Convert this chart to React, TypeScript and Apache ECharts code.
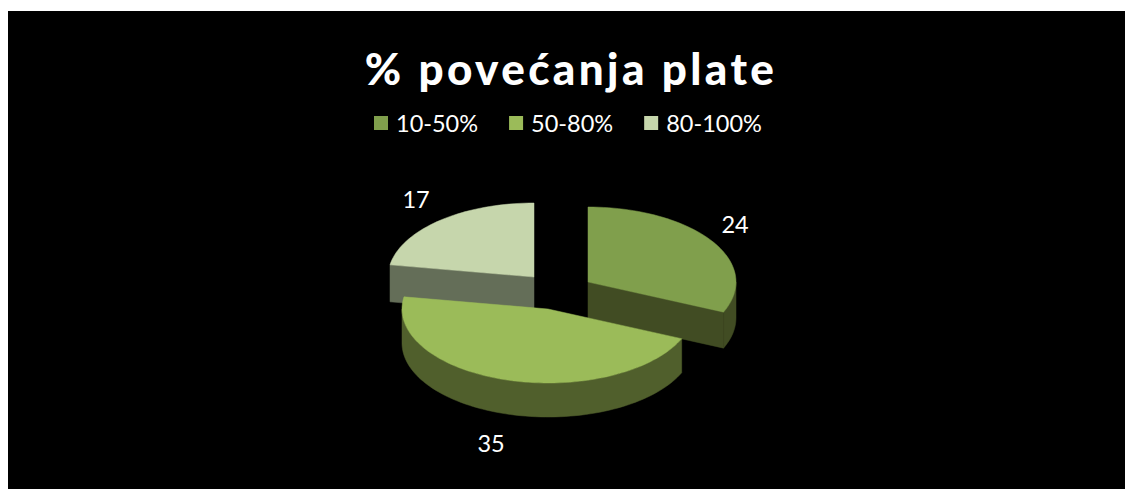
import React, { useEffect, useRef } from "react";
import * as echarts from "echarts";

const categories = ["10-50%", "50-80%", "80-100%"];
const values = [24, 35, 17];
const titleText = "% povećanja plate";

const FONT = "Lato, 'Open Sans', sans-serif";
const topColors = ["#809F4C", "#9BBB59", "#C6D6AC"];
const sideColors = ["#414C23", "#505F2C", "#646E58"];
// slice geometry in chart pixels: apex, radii, depth, label centre
const OX = 8, OY = 11;
const geometry = [
  { cx: 588 - OX, cy: 282 - OY, rx: 148, ry: 75, d: 36, lx: 735 - OX, ly: 224 - OY },
  { cx: 548 - OX, cy: 309 - OY, rx: 146, ry: 74, d: 34, lx: 491 - OX, ly: 443 - OY },
  { cx: 534 - OX, cy: 277 - OY, rx: 146, ry: 74, d: 37, lx: 416 - OX, ly: 199 - OY },
];
const total = values.reduce((a, b) => a + b, 0);
const drawOrder = [2, 0, 1];

function rimPoint(g: any, deg: number, dy = 0): number[] {
  const a = (deg * Math.PI) / 180;
  return [g.cx + g.rx * Math.sin(a), g.cy - g.ry * Math.cos(a) + dy];
}
function arcPoints(g: any, from: number, to: number, dy = 0): number[][] {
  const n = Math.max(2, Math.ceil(Math.abs(to - from) / 2));
  const pts: number[][] = [];
  for (let i = 0; i <= n; i++) pts.push(rimPoint(g, from + ((to - from) * i) / n, dy));
  return pts;
}

function makeRender(idx: number) {
  return (_params: any, api: any) => {
    const g = geometry[idx];
    const before = values.slice(0, idx).reduce((a, b) => a + b, 0);
    const start = (before / total) * 360;
    const end = start + ((api.value(0) as number) / total) * 360;
    const children: any[] = [];
    const side = sideColors[idx];
    const poly = (points: number[][], fill: string) => ({
      type: "polygon",
      shape: { points },
      style: { fill, stroke: fill, lineWidth: 0.5 },
    });
    // visible cut faces
    const cutFace = (deg: number) => {
      const p = rimPoint(g, deg);
      return poly(
        [[g.cx, g.cy], p, [p[0], p[1] + g.d], [g.cx, g.cy + g.d]],
        side
      );
    };
    if (idx === 0) children.push(cutFace(end));
    if (idx === 2) children.push(cutFace(start));
    // outer wall on the front half
    const wFrom = Math.max(start, 90);
    const wTo = Math.min(end, 270);
    if (wTo > wFrom) {
      const topArc = arcPoints(g, wFrom, wTo);
      const botArc = arcPoints(g, wFrom, wTo, g.d).reverse();
      children.push(poly([...topArc, ...botArc], side));
    }
    // top face
    children.push(poly([[g.cx, g.cy], ...arcPoints(g, start, end)], topColors[idx]));
    // value label
    children.push({
      type: "text",
      x: g.lx,
      y: g.ly,
      z2: 10,
      style: {
        text: String(api.value(0)),
        fill: "#FFFFFF",
        font: `23.5px ${FONT}`,
        textAlign: "center",
        textVerticalAlign: "middle",
      },
    });
    return { type: "group", children };
  };
}

export default function App() {
  const ref = useRef<HTMLDivElement>(null);
  useEffect(() => {
    const chart = echarts.init(ref.current!, undefined, { renderer: "svg" });
    chart.setOption({
      animation: false,
      backgroundColor: "#000000",
      title: {
        text: titleText,
        left: 566 - OX,
        top: 41 - OY,
        textAlign: "center",
        textStyle: { color: "#FFFFFF", fontFamily: FONT, fontWeight: 900, fontSize: 44 },
      },
      legend: {
        left: 374 - OX,
        top: 100,
        padding: 0,
        icon: "path://M0 0H14V14H0ZM17 0L17 14L17 0Z",
        itemWidth: 17,
        itemHeight: 14,
        itemGap: 31,
        selectedMode: false,
        data: categories,
        textStyle: { color: "#FFFFFF", fontFamily: FONT, fontSize: 23.5 },
      },
      series: drawOrder.map((i) => ({
        type: "custom",
        name: categories[i],
        coordinateSystem: "none",
        z: 2,
        itemStyle: { color: topColors[i] },
        data: [[values[i]]],
        renderItem: makeRender(i),
      })),
    });
    ref.current!.querySelectorAll("text").forEach((t) => {
      if ((t.textContent || "").startsWith("%")) t.setAttribute("letter-spacing", "3.4");
    });
    return () => chart.dispose();
  }, []);
  return (
    <div
      ref={ref}
      style={{ position: "absolute", left: OX, top: OY, width: 1117, height: 478 }}
    />
  );
}
